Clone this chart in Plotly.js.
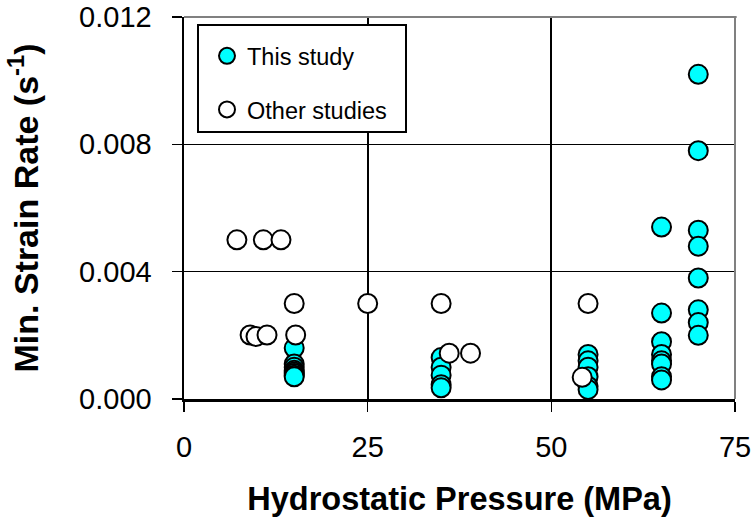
<!DOCTYPE html>
<html>
<head>
<meta charset="utf-8">
<script src="https://cdn.plot.ly/plotly-3.0.1.min.js"></script>
<style>html,body{margin:0;padding:0;background:#fff;}</style>
</head>
<body>
<div id="chart" style="width:754px;height:523px;"></div>
<script>
// This study (cyan)
const thisX = [15,15,15,15,15,15,15,15,
               35,35,35,35,35,
               55,55,55,55,55,55,
               65,65,65,65,65,65,65,65,
               70,70,70,70,70,70,70,70];
const thisY = [0.0016,0.0011,0.0010,0.0009,0.00085,0.0008,0.00075,0.0007,
               0.0013,0.0010,0.00075,0.00045,0.00035,
               0.0014,0.0012,0.0010,0.0007,0.0004,0.0003,
               0.0054,0.0027,0.0018,0.0014,0.0012,0.0011,0.0007,0.0006,
               0.0102,0.0078,0.0053,0.0048,0.0038,0.0028,0.0024,0.0020];
// Other studies (open)
const otherX = [7.2,10.8,13.2,15,25,35,55,9.0,9.8,11.3,15.2,36.1,39.0,54.2];
const otherY = [0.005,0.005,0.005,0.003,0.003,0.003,0.003,0.00201,0.00196,0.00201,0.00201,0.00144,0.00144,0.00068];

const seriesNames = ['This study', 'Other studies'];
const xTicks = [0,25,50,75];
const yTicks = [0,0.004,0.008,0.012];
const yTickText = ['0.000','0.004','0.008','0.012'];

const FONT = 'Liberation Sans, Arial, sans-serif';
const PAD = '&nbsp;&nbsp;';

const traces = [
  {x: thisX, y: thisY, type: 'scatter', mode: 'markers', name: seriesNames[0], legendgroup: 'a',
   marker: {size: 19, color: '#00FFFF', line: {color: '#000', width: 2}}},
  {x: otherX, y: otherY, type: 'scatter', mode: 'markers', name: seriesNames[1] + PAD, legendgroup: 'b',
   marker: {size: 19, color: '#FFFFFF', line: {color: '#000', width: 2}}}
];

const layout = {
  width: 754, height: 523,
  margin: {l: 184, r: 19, t: 17, b: 124, pad: 0},
  paper_bgcolor: '#fff', plot_bgcolor: '#fff',
  font: {family: FONT, color: '#000'},
  showlegend: true,
  legend: {x: 0.0236, y: 0.981, xanchor: 'left', yanchor: 'top',
           bordercolor: '#000', borderwidth: 2, bgcolor: '#fff',
           font: {size: 23.5, family: FONT, color: '#000'},
           title: {text: '&nbsp;', font: {size: 6}},
           traceorder: 'grouped', tracegroupgap: 20, indentation: 8},
  xaxis: {range: [0, 75], tickvals: xTicks, ticktext: xTicks.map(String),
          ticks: 'outside', ticklen: 10, tickwidth: 1.5, tickcolor: '#000',
          showline: true, linewidth: 2.5, linecolor: '#000',
          showgrid: true, gridcolor: '#000', gridwidth: 2, zeroline: false,
          tickfont: {size: 29, family: FONT, color: '#000'}, ticklabelstandoff: 11,
          title: {text: 'Hydrostatic Pressure (MPa)', standoff: 25,
                  font: {size: 32.5, family: FONT, weight: 'bold', color: '#000'}}},
  yaxis: {range: [0, 0.012], tickvals: yTicks, ticktext: yTickText,
          ticks: 'outside', ticklen: 10, tickwidth: 1.5, tickcolor: '#000',
          showline: true, linewidth: 2.5, linecolor: '#000',
          showgrid: true, gridcolor: '#000', gridwidth: 1.3, zeroline: false,
          tickfont: {size: 29, family: FONT, color: '#000'}, ticklabelstandoff: 14,
          title: {text: 'Min. Strain Rate (s<sup>-1</sup>)', standoff: 30,
                  font: {size: 34, family: FONT, weight: 'bold', color: '#000'}}},
  shapes: [
    {type: 'line', xref: 'paper', yref: 'paper', x0: 0, x1: 1.003, y0: 1, y1: 1,
     line: {color: '#808080', width: 2}, layer: 'above'},
    {type: 'line', xref: 'paper', yref: 'paper', x0: 1, x1: 1, y0: 0, y1: 1,
     line: {color: '#808080', width: 2}, layer: 'above'}
  ]
};

Plotly.newPlot('chart', traces, layout, {displayModeBar: false, staticPlot: true});
</script>
</body>
</html>
